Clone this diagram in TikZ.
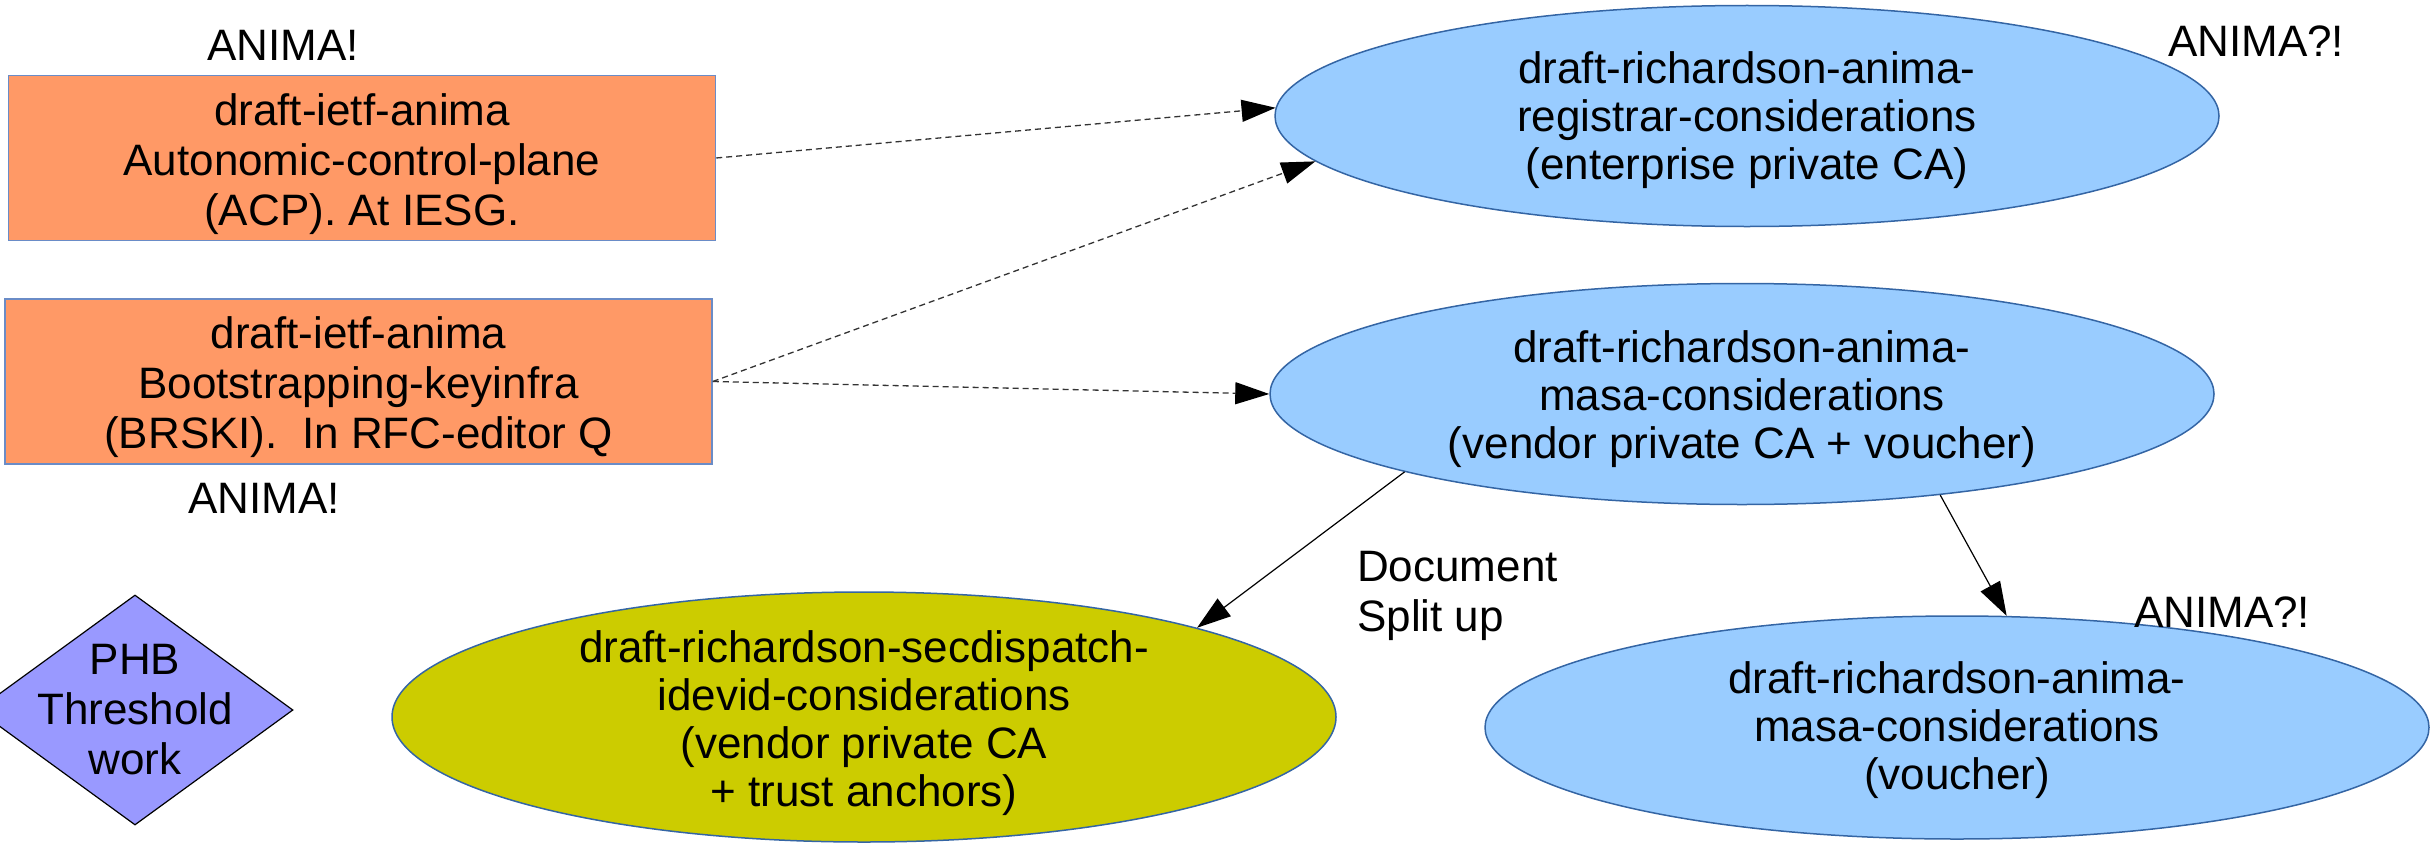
\documentclass[tikz,border=0pt]{standalone}
\usepackage{fontspec}
\setmainfont{Liberation Sans}
\usetikzlibrary{shapes.geometric,arrows.meta}
\definecolor{boxfill}{HTML}{FF9966}
\definecolor{boxline}{HTML}{6A8CC7}
\definecolor{ellfill}{HTML}{99CCFF}
\definecolor{ellline}{HTML}{3465A4}
\definecolor{secfill}{HTML}{CCCC00}
\definecolor{phbfill}{HTML}{9999FF}
\begin{document}
\begin{tikzpicture}[x=1pt,y=-1pt,
  every node/.style={font=\fontsize{44}{50}\selectfont},
  draftbox/.style={draw=boxline, fill=boxfill, line width=1.5pt, minimum width=707pt, minimum height=165pt, inner sep=0pt},
  boxtext/.style={align=center, inner sep=0pt},
  ell/.style={ellipse, draw=ellline, line width=1.5pt, fill=ellfill, minimum width=944pt, minimum height=221pt, inner sep=0pt},
  elltext/.style={align=center, inner sep=0pt, font=\fontsize{44}{48}\selectfont},
  lbl/.style={inner sep=0pt},
  dasharrow/.style={draw=black!80, line width=1.3pt, dash pattern=on 6pt off 4pt, -{Triangle[length=34pt,width=22pt,color=black]}},
  solidarrow/.style={draw=black, line width=1.2pt, -{Triangle[length=34pt,width=22pt,color=black]}}
]
\useasboundingbox (0,0) rectangle (2432,843);
\clip (0,0) rectangle (2432,843);

% boxes
\node[draftbox] (b1) at (362,158) {};
\node[boxtext] (b1t) at ([yshift=-6pt]b1.center) {draft-ietf-anima\\Autonomic-control-plane\\(ACP). At IESG.};
\node[draftbox] (b2) at (358.5,381.5) {};
\node[boxtext] (b2t) at ([yshift=-6pt]b2.center) {draft-ietf-anima\\Bootstrapping-keyinfra\\(BRSKI).\ \ In RFC-editor Q};

\node[lbl] (l1) at (283,45) {ANIMA!};
\node[lbl] (l2) at (264,498) {ANIMA!};

% ellipses
\node[ell] (e1) at (1747,116) {};
\node[elltext] (t1) at ([yshift=-4pt]e1.center) {draft-richardson-anima-\\registrar-considerations\\(enterprise private CA)};
\node[ell] (e2) at (1742,394) {};
\node[elltext] (t2) at ([yshift=-5pt]e2.center) {draft-richardson-anima-\\masa-considerations\\(vendor private CA + voucher)};
\node[ell, fill=secfill, minimum height=250pt] (e3) at (864,717) {};
\node[elltext] (t3) at ([yshift=-6pt]e3.center) {draft-richardson-secdispatch-\\idevid-considerations\\(vendor private CA\\+ trust anchors)};
\node[ell, minimum height=223pt] (e4) at (1957,727.5) {};
\node[elltext] (t4) at ([yshift=-3pt]e4.center) {draft-richardson-anima-\\masa-considerations\\(voucher)};

\node[lbl] (l3) at (2256,41) {ANIMA?!};
\node[lbl] (l4) at (2222,612) {ANIMA?!};
\node[lbl, align=left, anchor=north west] (doc) at (1357,551) {Document\\Split up};

% diamond
\node[diamond, draw=black, line width=1.2pt, fill=phbfill, minimum width=316pt, minimum height=230pt, inner sep=0pt] (phb) at (135,710) {};
\node[lbl, align=center] (phbt) at (phb) {PHB\\Threshold\\work};

% connectors
\draw[dasharrow] (b1.east) -- (e1.179);
\draw[dasharrow] (b2.east) -- (e1.186);
\draw[dasharrow] (b2.east) -- (e2.west);
\draw[solidarrow] (e2.193) -- (e3.15);
\draw[solidarrow] (e2.333) -- (e4.66);
\end{tikzpicture}
\end{document}
